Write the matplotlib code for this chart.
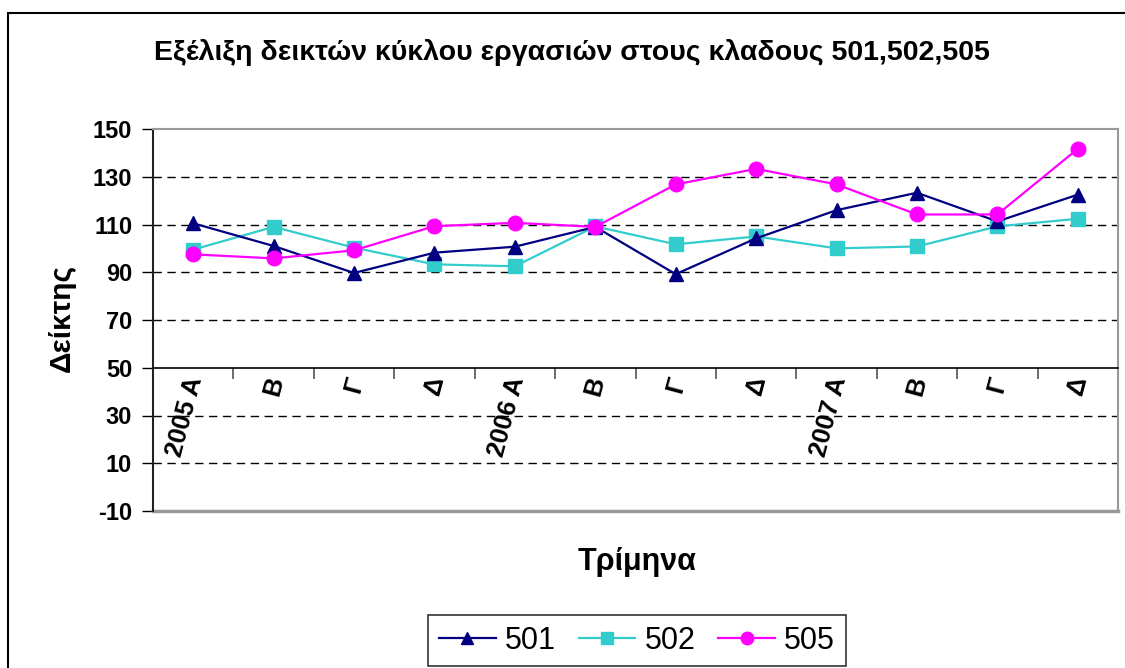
import matplotlib
matplotlib.use("Agg")
import matplotlib.pyplot as plt
from matplotlib.patches import Rectangle

categories = ["2005 A", "B", "Γ", "Δ", "2006 A", "Β", "Γ", "Δ", "2007 A", "B", "Γ", "Δ"]
s501 = [110.5, 101.0, 89.7, 98.2, 100.7, 109.0, 89.2, 104.2, 116.0, 123.3, 111.3, 122.5]
s502 = [99.5, 109.0, 100.3, 93.3, 92.5, 109.2, 101.7, 105.0, 100.0, 100.8, 109.2, 112.4]
s505 = [97.5, 95.8, 99.2, 109.3, 110.7, 109.0, 126.8, 133.3, 126.8, 114.2, 114.2, 141.7]
series_names = ["501", "502", "505"]
yticks = [-10, 10, 30, 50, 70, 90, 110, 130, 150]

plt.rcParams['font.family'] = ['Liberation Sans', 'DejaVu Sans']

W, H = 1125, 668
fig = plt.figure(figsize=(W / 100, H / 100), dpi=100)
fig.patch.set_facecolor('white')

# outer frame
fig.patches.append(Rectangle((8 / W, -0.2), 1.3, 1 - 13 / H + 0.2, transform=fig.transFigure,
                             fill=False, edgecolor='black', lw=1.5, zorder=0))

ax = fig.add_axes([153 / W, 1 - 511 / H, (1118 - 153) / W, (511 - 129) / H])
x = list(range(len(categories)))

ax.plot(x, s501, color='#000080', lw=1.6, marker='^', ms=10, label=series_names[0], zorder=4)
ax.plot(x, s502, color='#33CCCC', lw=1.6, marker='s', ms=9.5, label=series_names[1], zorder=3)
ax.plot(x, s505, color='#FF00FF', lw=1.6, marker='o', ms=10.5, label=series_names[2], zorder=5)

ax.set_xlim(-0.5, len(categories) - 0.5)
ax.set_ylim(-10, 150)
ax.set_yticks(yticks)
ax.set_yticklabels([str(v) for v in yticks], fontsize=17, fontweight='bold')
ax.tick_params(axis='y', direction='out', length=8, width=1, pad=7, colors='black')

# grid lines
for v in yticks:
    if v in (-10, 50, 150):
        continue
    ax.axhline(v, color='black', lw=1, ls=(0, (6, 4)), zorder=1)

# category axis at 50
ax.spines['bottom'].set_position(('data', 50))
ax.spines['bottom'].set_color('black')
ax.spines['bottom'].set_linewidth(1.2)
ax.set_xticks([i + 0.5 for i in range(len(categories) - 1)])
ax.set_xticklabels([])
ax.tick_params(axis='x', direction='out', length=8, width=1.2, colors='#555555')

ax.spines['left'].set_color('#222222')
ax.spines['left'].set_linewidth(1.5)
for s in ('top', 'right'):
    ax.spines[s].set_color('#999999')
    ax.spines[s].set_linewidth(1.5)
ax.axhline(-10, color='#999999', lw=2.5, clip_on=False, zorder=2)

for i, lab in enumerate(categories):
    ax.text(i + 0.03, 46.2, lab, rotation=75, rotation_mode='anchor', ha='right', va='center',
            fontsize=18.5, fontweight='bold', zorder=6)

fig.text(572 / W, 1 - 52 / H, "Εξέλιξη δεικτών κύκλου εργασιών στους κλαδους 501,502,505",
         ha='center', va='center', fontsize=20.5, fontweight='bold')
fig.text(62 / W, 1 - 318 / H, "Δείκτης", rotation=90, ha='center', va='center',
         fontsize=21.5, fontweight='bold')
fig.text(637 / W, 1 - 562 / H, "Τρίμηνα", ha='center', va='center', fontsize=22, fontweight='bold')

leg = fig.legend(loc='upper center', bbox_to_anchor=(637 / W, 1 - 615 / H), ncol=3,
                 fontsize=22, frameon=True, fancybox=False, handlelength=1.85,
                 handletextpad=0.3, columnspacing=0.75, borderpad=0.35, borderaxespad=0)
leg.get_frame().set_edgecolor('black')
leg.get_frame().set_linewidth(1.2)
for h in leg.legend_handles:
    h.set_markersize(9)

fig.savefig("out.png", dpi=100)
